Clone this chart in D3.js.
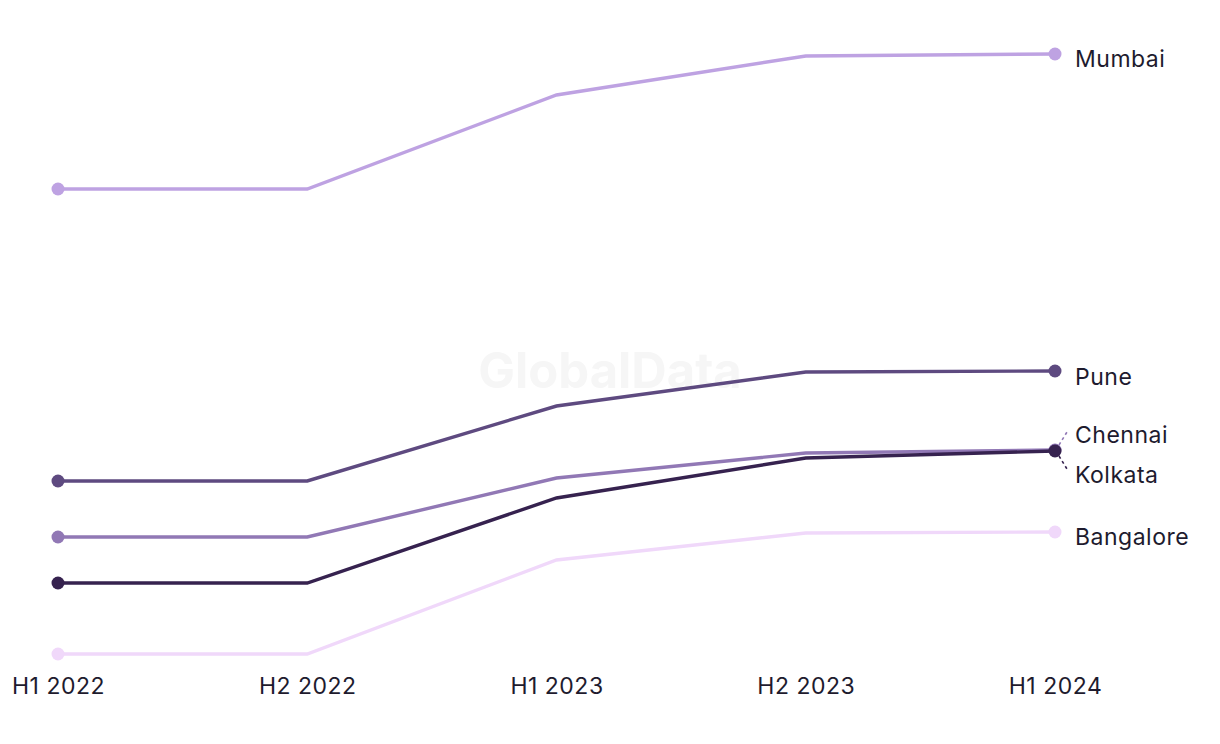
<!DOCTYPE html>
<html>
<head>
<meta charset="utf-8">
<script src="https://cdn.jsdelivr.net/npm/d3@7"></script>
<style>
  body { margin: 0; background: #fff; }
  svg { display: block; font-family: "Inter", "Noto Sans", sans-serif; }
</style>
</head>
<body>
<div id="chart-area"></div>
<script>
// periods on the x axis
var periods = ["H1 2022", "H2 2022", "H1 2023", "H2 2023", "H1 2024"];

// series values (relative index)
var mumbai    = [465, 465, 559, 598, 600];
var pune      = [173, 173, 248, 282, 283];
var chennai   = [117, 117, 176, 201, 204];
var kolkata   = [71, 71, 156, 196, 203];
var bangalore = [0, 0, 94, 121, 122];

var cities = ["Mumbai", "Pune", "Chennai", "Kolkata", "Bangalore"];
var seriesValues = [mumbai, pune, chennai, kolkata, bangalore];
var colors = ["#bea2e2", "#5e4a80", "#9178b5", "#36224f", "#f0d8fa"];
// label offsets so Chennai and Kolkata don't overlap
var labelShift = [5, 6, -15, 24, 5];

var svg_x = 1220, svg_y = 744;

var svg = d3.select("#chart-area")
  .append("svg")
    .attr("width", svg_x)
    .attr("height", svg_y);

//scales
var x = d3.scalePoint()
  .domain(periods)
  .range([58, 1055]);
var y = d3.scaleLinear()
  .domain([0, 600])
  .range([654, 54]);

// watermark
svg.append("text")
  .attr("x", 610)
  .attr("y", 388)
  .attr("text-anchor", "middle")
  .attr("font-size", 49)
  .attr("font-weight", "bold")
  .attr("fill", "#f6f6f6")
  .text("GlobalData");

//x axis labels
var xAxisCall = d3.axisBottom(x).tickSize(0).tickPadding(0);
var xAxis = svg.append("g")
  .attr("transform", "translate(0,694)")
  .call(xAxisCall);
xAxis.select(".domain").remove();
xAxis.selectAll("text")
  .attr("dy", 0)
  .attr("font-size", 23)
  .attr("letter-spacing", 0.5)
  .attr("fill", "#1e1b2e")
  .attr("font-family", "Inter, 'Noto Sans', sans-serif");

var data = cities.map((c, i) => ({name: c, values: seriesValues[i], color: colors[i], shift: labelShift[i]}));

var line = d3.line()
  .x((d, i) => x(periods[i]))
  .y(d => y(d));

// draw lighter series first, so darker ones sit on top
var order = [4, 0, 2, 1, 3];
var g = svg.append("g");
order.forEach(i => {
  var s = data[i];
  g.append("path")
    .attr("d", line(s.values))
    .attr("fill", "none")
    .attr("stroke", s.color)
    .attr("stroke-width", 3.4);
  g.selectAll(null)
    .data([0, s.values.length - 1])
    .enter()
    .append("circle")
      .attr("cx", k => x(periods[k]))
      .attr("cy", k => y(s.values[k]))
      .attr("r", 6.5)
      .attr("fill", s.color);
});

// end labels
var last = periods.length - 1;
data.forEach(s => {
  var xEnd = x(periods[last]);
  var yEnd = y(s.values[last]);
  var yLab = yEnd + s.shift;
  if (Math.abs(s.shift) > 10) {
    // dashed leader line to the shifted label
    var up = s.shift < 0;
    svg.append("line")
      .attr("x1", xEnd + 4)
      .attr("y1", yEnd + (up ? -5 : 5))
      .attr("x2", xEnd + 12)
      .attr("y2", up ? yEnd - 18 : yEnd + 18)
      .attr("stroke", s.color)
      .attr("stroke-width", 1.6)
      .attr("stroke-dasharray", "3,3");
  }
  svg.append("text")
    .attr("x", 1075)
    .attr("y", yLab)
    .attr("dy", "0.35em")
    .attr("font-size", 23)
    .attr("letter-spacing", 0.5)
    .attr("fill", "#1e1b2e")
    .text(s.name);
});
</script>
</body>
</html>
